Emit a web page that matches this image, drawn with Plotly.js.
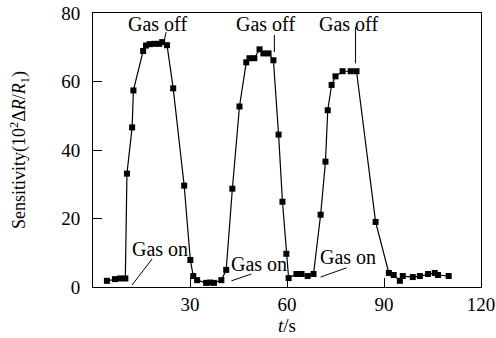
<!DOCTYPE html>
<html><head><meta charset="utf-8">
<script src="https://cdn.plot.ly/plotly-3.0.1.min.js"></script>
<style>html,body{margin:0;padding:0;background:#fff}#c{width:496px;height:338px}</style>
</head><body><div id="c"></div>
<script>
var timeS = [4.3, 6.8, 8.4, 10.0, 10.5, 12.1, 12.5, 15.5, 16.4, 17.5, 19.0, 20.5, 21.4, 22.9, 24.8, 28.2, 30.1, 31.0, 32.2, 35.0, 36.2, 37.4, 39.7, 41.2, 43.1, 45.3, 47.4, 48.4, 49.9, 51.5, 52.7, 54.3, 55.8, 57.4, 58.6, 59.8, 60.5, 62.9, 64.5, 66.4, 68.2, 70.4, 71.9, 72.6, 73.8, 75.0, 77.2, 79.7, 81.5, 87.4, 91.5, 93.0, 94.9, 95.8, 98.9, 101.1, 103.6, 105.7, 106.7, 110.0];
var sensitivity = [1.8, 2.3, 2.5, 2.5, 33.1, 46.6, 57.4, 68.9, 70.5, 70.9, 71.0, 71.0, 71.5, 70.6, 58.0, 29.6, 7.9, 3.2, 2.0, 1.2, 1.3, 1.2, 2.0, 5.0, 28.7, 52.7, 65.6, 66.8, 66.8, 69.4, 68.2, 68.2, 66.2, 44.5, 24.9, 9.7, 2.6, 3.8, 3.8, 3.2, 3.8, 21.1, 36.6, 51.6, 59.0, 61.5, 63.0, 63.0, 63.0, 19.0, 4.1, 3.5, 1.8, 3.2, 2.9, 3.2, 3.8, 4.1, 3.5, 3.2];
var xTicks = [30, 60, 90, 120];
var yTicks = [0, 20, 40, 60, 80];
var labelTexts = ["Gas off", "Gas off", "Gas off", "Gas on", "Gas on", "Gas on"];
var labelX = [19.8, 53.3, 78.9, 20.6, 51.3, 78.9];
var labelY = [76.8, 76.8, 76.8, 11.1, 6.7, 8.8];
var leaderX0 = [22.6, 56.1, 81.2, 18.3, 49.0, 78.4];
var leaderY0 = [74.4, 73.6, 75.9, 8.2, 3.8, 5.6];
var leaderX1 = [22.0, 56.1, 81.2, 12.1, 42.8, 70.4];
var leaderY1 = [71.8, 68.6, 65.3, 0.6, 1.8, 2.9];

var font = "Liberation Serif, Times New Roman, serif";
var annotations = labelTexts.map(function(t, i){
  return {x: labelX[i], y: labelY[i], xref:'x', yref:'y', text: t, showarrow:false,
          font:{family:font, size:20, color:'#000'}, bgcolor:'rgba(0,0,0,0)'};
});
var shapes = labelTexts.map(function(t, i){
  return {type:'line', xref:'x', yref:'y', x0: leaderX0[i], y0: leaderY0[i], x1: leaderX1[i], y1: leaderY1[i],
          line:{color:'#000', width:1}};
});

Plotly.newPlot('c', [{
  x: timeS, y: sensitivity, type:'scatter', mode:'lines+markers',
  line:{color:'#000', width:1.2},
  marker:{symbol:'square', size:6, color:'#000'}
}], {
  width:496, height:338,
  margin:{l:93, r:15, t:13, b:51},
  paper_bgcolor:'#fff', plot_bgcolor:'#fff',
  showlegend:false,
  font:{family:font, size:19, color:'#000'},
  xaxis:{range:[0,120], tickvals:xTicks, ticks:'inside', ticklen:9, tickcolor:'#000',
         showline:true, mirror:true, linecolor:'#000', linewidth:1, showgrid:false, zeroline:false,
         ticklabelstandoff:0, tickfont:{family:font, size:19},
         title:{text:'<i>t</i>/s', font:{family:font, size:19}, standoff:0}},
  yaxis:{range:[0,80], tickvals:yTicks, ticks:'inside', ticklen:9, tickcolor:'#000',
         showline:true, mirror:true, linecolor:'#000', linewidth:1, showgrid:false, zeroline:false,
         ticklabelstandoff:8, tickfont:{family:font, size:19},
         title:{text:'Sensitivity(10<sup>2</sup>Δ<i>R</i>/<i>R</i><sub>1</sub>)', font:{family:font, size:18}, standoff:30}},
  annotations: annotations,
  shapes: shapes
}, {displayModeBar:false, staticPlot:true});
</script>
</body></html>
